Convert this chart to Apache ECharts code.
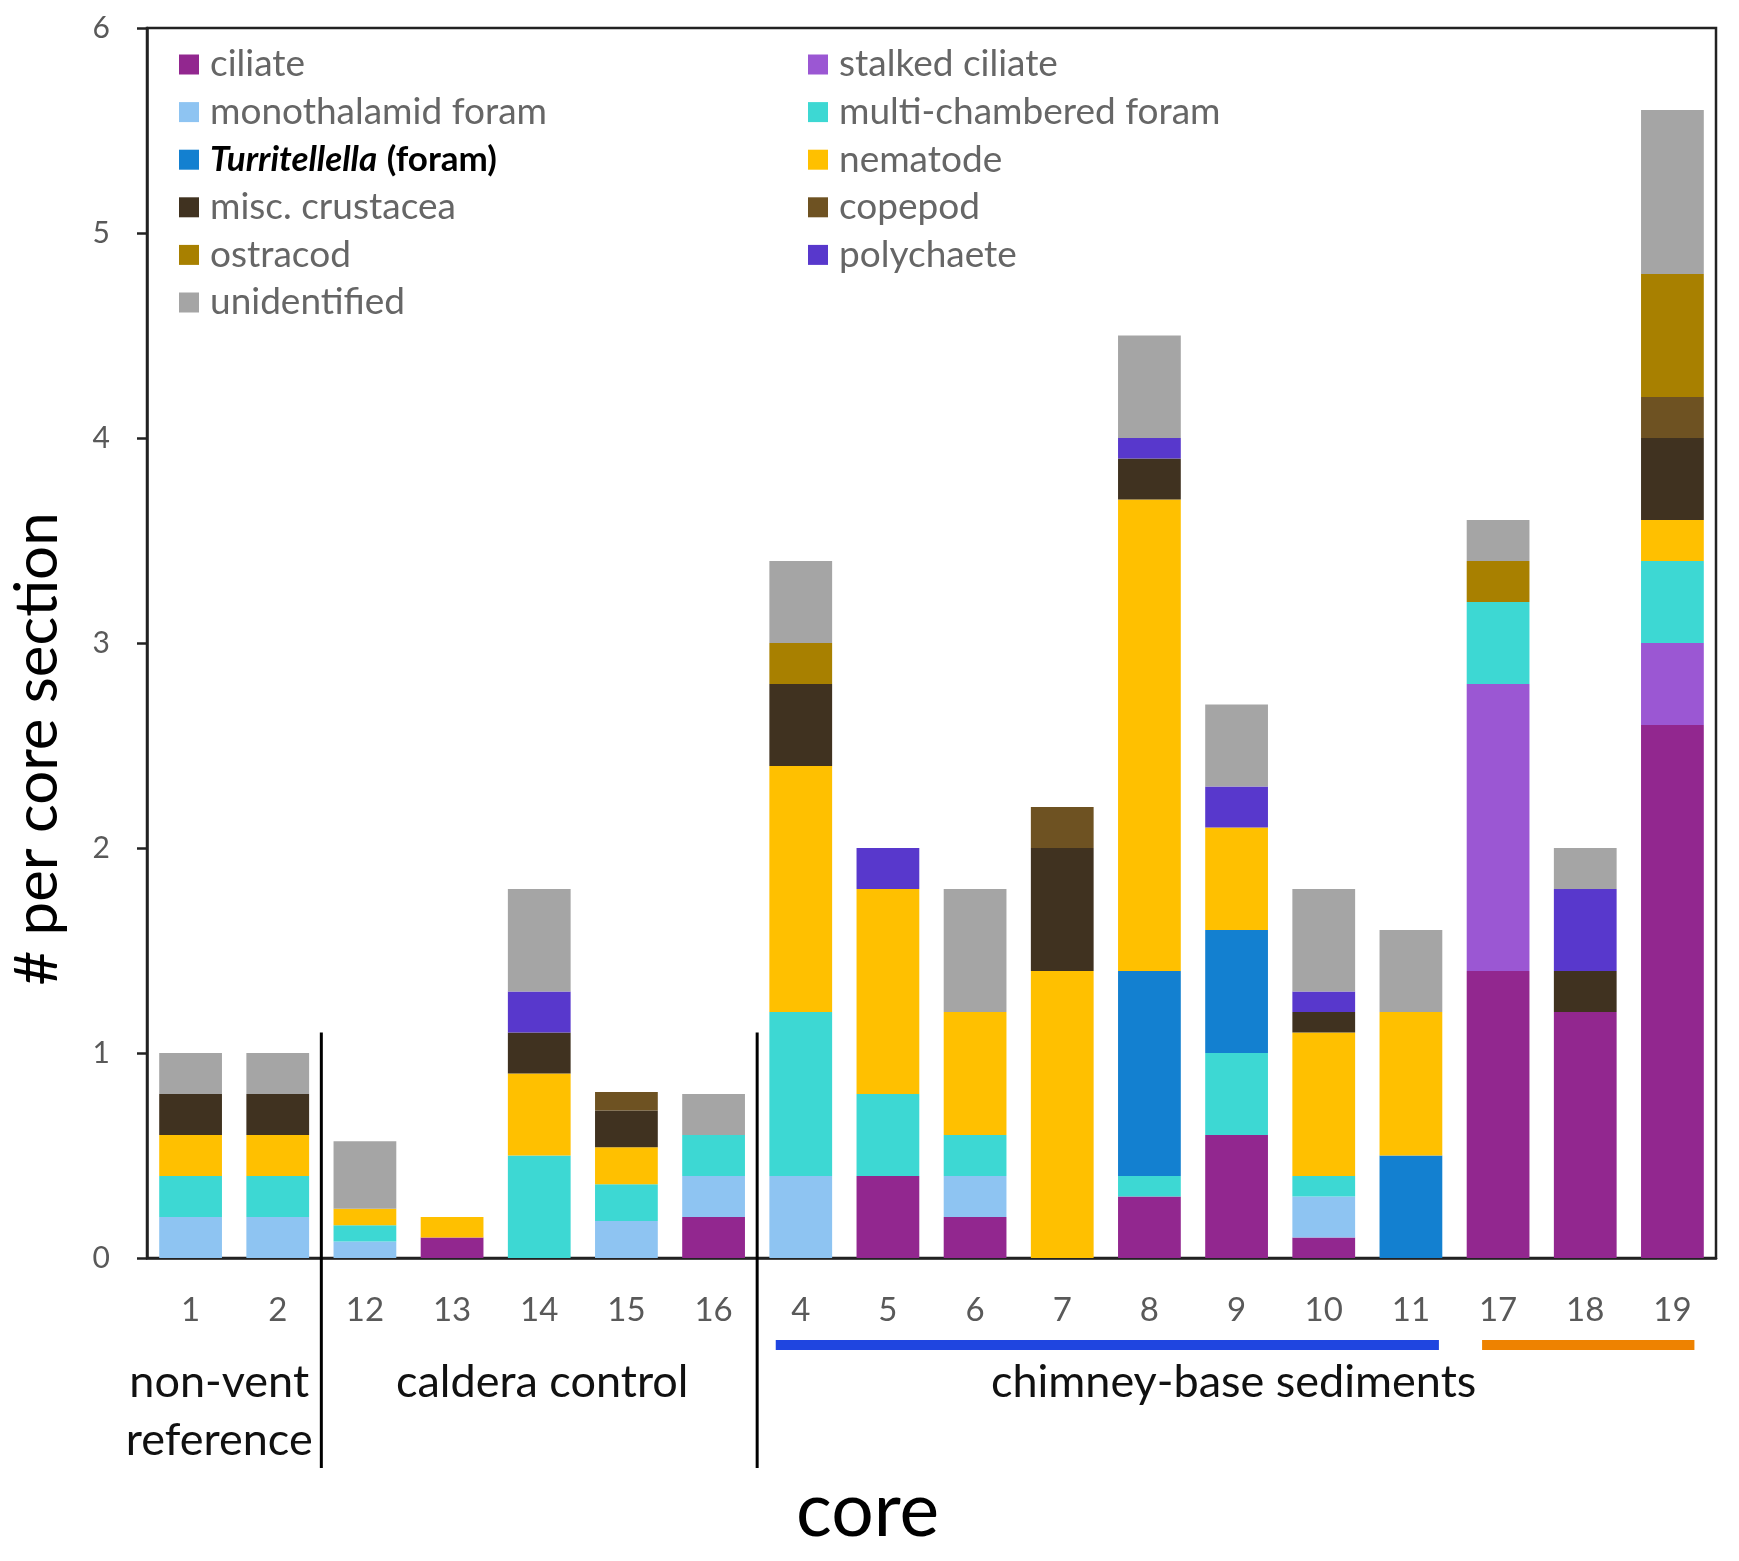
<!DOCTYPE html>
<html>
<head>
<meta charset="utf-8">
<script src="https://cdn.jsdelivr.net/npm/echarts@6/dist/echarts.min.js"></script>
<style>
html,body{margin:0;padding:0;background:#fff;}
#chart{width:1739px;height:1561px;}
</style>
</head>
<body>
<div id="chart"></div>
<script>
// Categories (core numbers, in plotted order)
const cores = ['1','2','12','13','14','15','16','4','5','6','7','8','9','10','11','17','18','19'];

// Series values (# per core section), stacked bottom to top
const ciliate        = [0,0,0,0.1,0,0,0.2,0,0.4,0.2,0,0.3,0.6,0.1,0,1.4,1.2,2.6];
const stalkedCiliate = [0,0,0,0,0,0,0,0,0,0,0,0,0,0,0,1.4,0,0.4];
const monothalamid   = [0.2,0.2,0.08,0,0,0.18,0.2,0.4,0,0.2,0,0,0,0.2,0,0,0,0];
const multiChambered = [0.2,0.2,0.08,0,0.5,0.18,0.2,0.8,0.4,0.2,0,0.1,0.4,0.1,0,0.4,0,0.4];
const turritellella  = [0,0,0,0,0,0,0,0,0,0,0,1.0,0.6,0,0.5,0,0,0];
const nematode       = [0.2,0.2,0.08,0.1,0.4,0.18,0,1.2,1.0,0.6,1.4,2.3,0.5,0.7,0.7,0,0,0.2];
const miscCrustacea  = [0.2,0.2,0,0,0.2,0.18,0,0.4,0,0,0.6,0.2,0,0.1,0,0,0.2,0.4];
const copepod        = [0,0,0,0,0,0.09,0,0,0,0,0.2,0,0,0,0,0,0,0.2];
const ostracod       = [0,0,0,0,0,0,0,0.2,0,0,0,0,0,0,0,0.2,0,0.6];
const polychaete     = [0,0,0,0,0.2,0,0,0,0.2,0,0,0.1,0.2,0.1,0,0,0.4,0];
const unidentified   = [0.2,0.2,0.33,0,0.5,0,0.2,0.4,0,0.6,0,0.5,0.4,0.5,0.4,0.2,0.2,0.8];

// Y tick labels
const yTicks = [0,1,2,3,4,5,6];

// Groups of cores
const groups = [
  {label:'non-vent\nreference', from:0, to:1},
  {label:'caldera control', from:2, to:6},
  {label:'chimney-base sediments', from:7, to:17}
];

const FONT = 'Lato';
const seriesDefs = [
  {name:'ciliate', data:ciliate, color:'#92278F'},
  {name:'stalked ciliate', data:stalkedCiliate, color:'#9B57D3'},
  {name:'monothalamid foram', data:monothalamid, color:'#8EC4F2'},
  {name:'multi-chambered foram', data:multiChambered, color:'#3DD8D3'},
  {name:'Turritellella (foram)', data:turritellella, color:'#1380D0'},
  {name:'nematode', data:nematode, color:'#FFC000'},
  {name:'misc. crustacea', data:miscCrustacea, color:'#403220'},
  {name:'copepod', data:copepod, color:'#6E5222'},
  {name:'ostracod', data:ostracod, color:'#A88000'},
  {name:'polychaete', data:polychaete, color:'#5838CC'},
  {name:'unidentified', data:unidentified, color:'#A5A5A5'}
];

const LFS = 37;
const legendText = {
  fontFamily: FONT, fontSize: LFS, color: '#666666', padding:[0,0,0,6],
  rich: {
    i: {fontFamily: FONT, fontSize: LFS-2, fontStyle:'italic', fontWeight:'bold', color:'#000'},
    b: {fontFamily: FONT, fontSize: LFS-2, fontWeight:'bold', color:'#000'}
  }
};
const legendFormatter = function(name){
  if (name === 'Turritellella (foram)') return '{i|Turritellella} {b|(foram)}';
  return name;
};
const legendCommon = {
  orient:'vertical', top:46, padding:0, itemWidth:20, itemHeight:20, itemGap:10.6,
  icon:'rect', selectedMode:false, textStyle:legendText, formatter:legendFormatter
};

const chart = echarts.init(document.getElementById('chart'));
chart.setOption({
  animation:false,
  backgroundColor:'#fff',
  textStyle:{fontFamily:FONT},
  grid:{left:142, right:23, top:28, bottom:303, show:true, borderColor:'#222', borderWidth:2.5, containLabel:false},
  legend:[
    Object.assign({}, legendCommon, {left:179, data:['ciliate','monothalamid foram','Turritellella (foram)','misc. crustacea','ostracod','unidentified']}),
    Object.assign({}, legendCommon, {left:808, data:['stalked ciliate','multi-chambered foram','nematode','copepod','polychaete']})
  ],
  xAxis:{
    type:'category', data:cores,
    name:'core', nameLocation:'middle', nameGap:216,
    nameTextStyle:{fontFamily:FONT, fontSize:75, color:'#000', padding:[0,128,0,0]},
    axisLine:{show:true, lineStyle:{color:'#222', width:2.5}},
    axisTick:{show:false},
    axisLabel:{fontFamily:FONT, fontSize:33, color:'#595959', margin:36, interval:0},
    splitLine:{show:false}
  },
  yAxis:{
    type:'value', min:yTicks[0], max:yTicks[yTicks.length-1], interval:1,
    name:'# per core section', nameLocation:'middle', nameGap:79, nameRotate:90,
    nameTextStyle:{fontFamily:FONT, fontSize:60, color:'#000', padding:[0,212,0,0]},
    axisLine:{show:true, lineStyle:{color:'#222', width:2.5}},
    axisTick:{show:true, inside:false, length:10, lineStyle:{color:'#222', width:2.5}},
    axisLabel:{fontFamily:FONT, fontSize:30, color:'#595959', margin:37},
    splitLine:{show:false}
  },
  series: seriesDefs.map(s => ({
    type:'bar', name:s.name, stack:'total', data:s.data,
    barCategoryGap:'28%', itemStyle:{color:s.color},
    emphasis:{disabled:true}
  }))
});

function drawAnnotations(){
  const cx = i => chart.convertToPixel({xAxisIndex:0}, i);
  const y0 = chart.convertToPixel({yAxisIndex:0}, 0);
  const yTop = chart.convertToPixel({yAxisIndex:0}, 1.1);
  const g = [];
  // vertical separators between groups
  [[1,2],[6,7]].forEach(([a,b])=>{
    const x = (cx(a)+cx(b))/2;
    g.push({type:'line', shape:{x1:x, y1:yTop, x2:x, y2:y0+210}, style:{stroke:'#000', lineWidth:3}, z:10});
  });
  // group labels
  const lab = (txt, x, y) => g.push({type:'text', x:x, y:y, style:{text:txt, fontFamily:FONT, fontSize:45, fill:'#111', align:'center', verticalAlign:'middle', lineHeight:58}, z:10});
  lab(groups[0].label, (cx(groups[0].from)+cx(groups[0].to))/2 - 15, y0+153);
  lab(groups[1].label, (cx(groups[1].from)+cx(groups[1].to))/2 + 3, y0+124);
  lab(groups[2].label, (cx(groups[2].from)+cx(groups[2].to))/2 - 3, y0+124);
  // colored underlines
  g.push({type:'line', shape:{x1:cx(7)-25, y1:y0+87, x2:cx(14)+28, y2:y0+87}, style:{stroke:'#1F45E0', lineWidth:10}, z:10});
  g.push({type:'line', shape:{x1:cx(15)-16, y1:y0+87, x2:cx(17)+22, y2:y0+87}, style:{stroke:'#EE8200', lineWidth:10}, z:10});
  chart.setOption({graphic:g});
}
drawAnnotations();
</script>
</body>
</html>
